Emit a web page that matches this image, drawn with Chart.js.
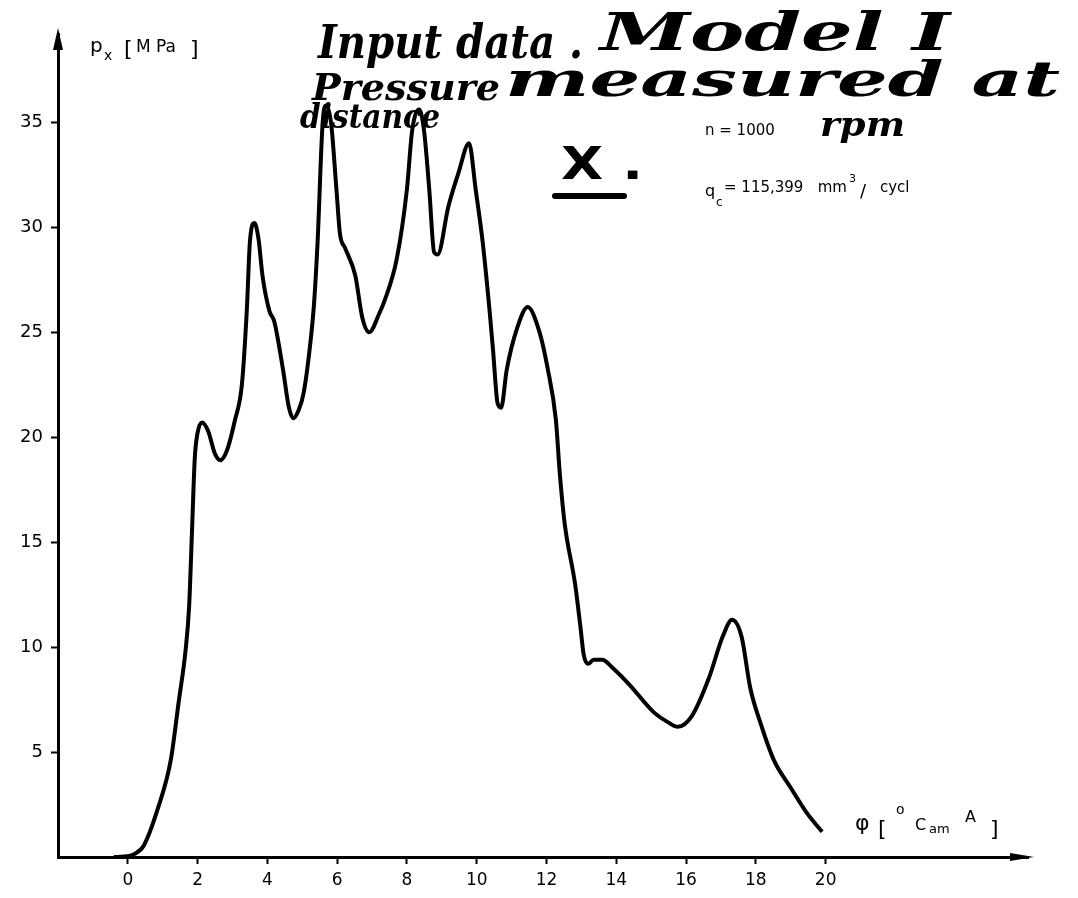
<!DOCTYPE html>
<html>
<head>
<meta charset="utf-8">
<script src="https://cdn.jsdelivr.net/npm/chart.js@4.4.1/dist/chart.umd.min.js"></script>
<style>
  html, body { margin: 0; padding: 0; background: #fff; }
  #wrap { width: 1078px; height: 898px; position: relative; }
</style>
</head>
<body>
<div id="wrap"><canvas id="chart"></canvas></div>
<script>
// crank angle (deg CamA) and measured pressure p_x (MPa)
const crankAngle = [-0.4, -0.1, 0.2, 0.46, 0.86, 1.23, 1.46, 1.66, 1.76, 1.84, 1.92, 2.0, 2.13, 2.3, 2.5, 2.65, 2.85,
  3.07, 3.27, 3.41, 3.5, 3.63, 3.75, 3.86, 4.06, 4.2, 4.45, 4.62, 4.75, 4.9, 5.04, 5.24, 5.34, 5.44, 5.59, 5.69, 5.83,
  5.98, 6.08, 6.23, 6.52, 6.72, 6.92, 7.21, 7.36, 7.71, 8.0, 8.15, 8.35, 8.49, 8.64, 8.78, 8.88, 9.19, 9.48, 9.78, 9.97,
  10.17, 10.37, 10.47, 10.6, 10.7, 10.86, 11.16, 11.46, 11.8, 12.03, 12.27, 12.38, 12.52, 12.82, 12.97, 13.07, 13.2,
  13.35, 13.6, 13.9, 14.38, 15.07, 15.5, 15.76, 16.16, 16.65, 17.05, 17.32, 17.59, 17.84, 18.13, 18.52, 19.0, 19.46, 19.9];
const pressure = [0, 0.02, 0.15, 0.55, 2.3, 4.6, 7.4, 9.9, 12.0, 15.5, 19.0, 20.2, 20.7, 20.3, 19.2, 18.9, 19.4,
  20.8, 22.5, 26.0, 29.3, 30.2, 29.4, 27.7, 26.0, 25.5, 23.2, 21.4, 20.9, 21.3, 22.1, 24.6, 26.4, 29.3, 35.1, 35.8, 34.9,
  31.8, 29.7, 29.0, 27.7, 25.7, 25.0, 25.9, 26.5, 28.5, 31.8, 34.6, 35.6, 34.6, 31.8, 28.8, 28.7, 31.0, 32.6, 34.0, 31.8,
  29.3, 26.0, 24.1, 21.6, 21.4, 23.2, 25.2, 26.2, 25.0, 23.3, 20.8, 18.3, 15.9, 13.0, 11.0, 9.6, 9.2,
  9.4, 9.4, 9.0, 8.2, 6.9, 6.4, 6.2, 6.7, 8.5, 10.5, 11.3, 10.5, 8.05, 6.4, 4.6, 3.3, 2.1, 1.2];

const xTickValues = [0, 2, 4, 6, 8, 10, 12, 14, 16, 18, 20];
const xTickLabels = ['0', '2', '4', '6', '8', '10', '12', '14', '16', '18', '20'];
const yTickValues = [5, 10, 15, 20, 25, 30, 35];
const yTickLabels = ['5', '10', '15', '20', '25', '30', '35'];

const points = crankAngle.map((x, i) => ({ x: x, y: pressure[i] }));

function fitText(ctx, text, x, y, w, font) {
  ctx.font = font;
  const m = ctx.measureText(text).width;
  ctx.save();
  ctx.translate(x, y);
  ctx.scale(w / m, 1);
  ctx.fillText(text, 0, 0);
  ctx.restore();
}

// arrows on the axes and the notes written on the sheet
const decor = {
  id: 'decor',
  afterDraw(chart) {
    const ctx = chart.ctx;
    const a = chart.chartArea;
    ctx.save();
    ctx.fillStyle = '#000';
    ctx.strokeStyle = '#000';
    // y arrow
    ctx.beginPath();
    ctx.moveTo(a.left, a.top - 6);
    ctx.lineTo(a.left - 5, a.top + 16);
    ctx.lineTo(a.left + 5, a.top + 16);
    ctx.closePath();
    ctx.fill();
    // x arrow
    ctx.beginPath();
    ctx.moveTo(a.right + 6, a.bottom);
    ctx.lineTo(a.right - 18, a.bottom - 4);
    ctx.lineTo(a.right - 18, a.bottom + 4);
    ctx.closePath();
    ctx.fill();

    ctx.textBaseline = 'alphabetic';
    ctx.textAlign = 'left';
    // y axis title
    ctx.font = '20px "DejaVu Sans"';
    ctx.fillText('p', 90, 52);
    ctx.font = '14px "DejaVu Sans"';
    ctx.fillText('x', 104, 60);
    ctx.font = '22px "DejaVu Sans"';
    ctx.fillText('[', 124, 56);
    ctx.font = '17px "DejaVu Sans"';
    ctx.fillText('M Pa', 136, 52);
    ctx.font = '22px "DejaVu Sans"';
    ctx.fillText(']', 190, 56);

    // x axis title
    ctx.font = '22px "DejaVu Sans"';
    ctx.fillText('\u03C6', 855, 830);
    ctx.fillText('[', 878, 836);
    ctx.font = '14px "DejaVu Sans"';
    ctx.fillText('o', 896, 814);
    ctx.font = '16px "DejaVu Sans"';
    ctx.fillText('C', 915, 830);
    ctx.font = '13px "DejaVu Sans"';
    ctx.fillText('am', 929, 833);
    ctx.font = '16px "DejaVu Sans"';
    ctx.fillText('A', 965, 822);
    ctx.font = '22px "DejaVu Sans"';
    ctx.fillText(']', 990, 836);

    // handwritten notes
    const hand = 'italic bold 46px "DejaVu Serif"';
    fitText(ctx, 'Input data .', 318, 58, 265, hand);
    fitText(ctx, 'Model I', 600, 50, 350, 'italic bold 52px "DejaVu Serif"');
    fitText(ctx, 'Pressure', 312, 100, 188, 'italic bold 38px "DejaVu Serif"');
    fitText(ctx, 'measured at', 505, 96, 555, 'italic bold 48px "DejaVu Serif"');
    fitText(ctx, 'distance', 300, 128, 140, 'italic bold 34px "DejaVu Serif"');
    fitText(ctx, 'rpm', 820, 136, 85, 'italic bold 34px "DejaVu Serif"');
    fitText(ctx, 'X .', 561, 179, 82, 'bold 44px "DejaVu Sans"');
    ctx.lineWidth = 6;
    ctx.lineCap = 'round';
    ctx.beginPath();
    ctx.moveTo(555, 196);
    ctx.lineTo(624, 196);
    ctx.stroke();

    // printed notes
    ctx.font = '15px "DejaVu Sans"';
    ctx.fillText('n = 1000', 705, 135);
    ctx.font = '16px "DejaVu Sans"';
    ctx.fillText('q', 705, 196);
    ctx.font = '12px "DejaVu Sans"';
    ctx.fillText('c', 716, 206);
    ctx.font = '15px "DejaVu Sans"';
    ctx.fillText('= 115,399   mm', 724, 192);
    ctx.font = '11px "DejaVu Sans"';
    ctx.fillText('3', 849, 182);
    ctx.font = '18px "DejaVu Sans"';
    ctx.fillText('/', 860, 197);
    ctx.font = '15px "DejaVu Sans"';
    ctx.fillText('cycl', 880, 192);
    ctx.restore();
  }
};

new Chart(document.getElementById('chart'), {
  type: 'scatter',
  data: {
    datasets: [{
      data: points,
      showLine: true,
      borderColor: '#000',
      borderWidth: 4,
      pointRadius: 0,
      cubicInterpolationMode: 'monotone',
      fill: false
    }]
  },
  options: {
    responsive: true,
    maintainAspectRatio: false,
    animation: false,
    layout: { padding: { top: 34, right: 50, left: 0, bottom: 0 } },
    plugins: { legend: { display: false }, tooltip: { enabled: false } },
    scales: {
      x: {
        type: 'linear',
        min: -2,
        max: 25.8,
        afterFit: s => { s.height = 41; },
        afterBuildTicks: s => { s.ticks = xTickValues.map(v => ({ value: v })); },
        border: { color: '#000', width: 3 },
        grid: { drawOnChartArea: false, drawTicks: true, tickLength: 7, tickColor: '#000', tickWidth: 2 },
        ticks: {
          color: '#000',
          padding: 6,
          maxRotation: 0,
          font: { family: 'DejaVu Sans', size: 17 },
          callback: (v, i) => xTickLabels[i]
        }
      },
      y: {
        type: 'linear',
        min: 0,
        max: 39.2,
        afterFit: s => { s.width = 58; },
        afterBuildTicks: s => { s.ticks = yTickValues.map(v => ({ value: v })); },
        border: { color: '#000', width: 3 },
        grid: { drawOnChartArea: false, drawTicks: true, tickLength: 7, tickColor: '#000', tickWidth: 2 },
        ticks: {
          color: '#000',
          padding: 8,
          font: { family: 'DejaVu Sans', size: 18 },
          callback: (v, i) => yTickLabels[i]
        }
      }
    }
  },
  plugins: [decor]
});
</script>
</body>
</html>
